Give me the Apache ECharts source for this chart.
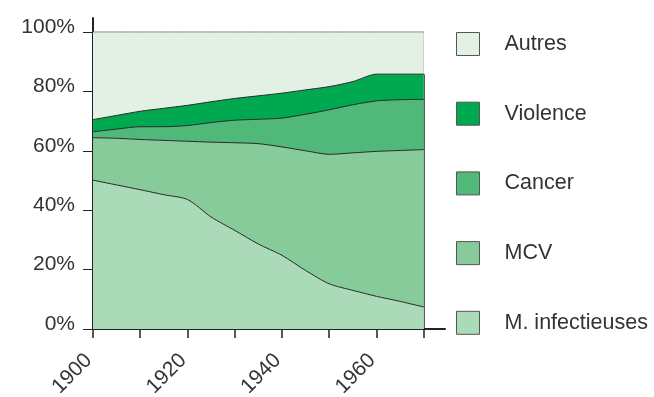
<!DOCTYPE html>
<html>
<head>
<meta charset="utf-8">
<script src="https://cdn.jsdelivr.net/npm/echarts@6/dist/echarts.min.js"></script>
<style>
html,body{margin:0;padding:0;background:#fff;}
#chart{width:654px;height:397px;}
</style>
</head>
<body>
<div id="chart"></div>
<script>
// Data (share of deaths, %)
const years = [1900, 1905, 1910, 1915, 1920, 1925, 1930, 1935, 1940, 1945, 1950, 1955, 1960, 1965, 1970];
const infectieuses = [50.1, 48.5, 46.9, 45.2, 43.6, 37.7, 33.2, 28.6, 24.8, 19.7, 15.2, 13.0, 11.0, 9.3, 7.4];
const mcv = [14.3, 15.7, 16.9, 18.3, 19.6, 25.2, 29.5, 33.8, 36.5, 40.3, 43.6, 46.3, 48.8, 50.8, 53.0];
const cancer = [2.0, 3.1, 4.3, 4.6, 5.3, 6.6, 7.6, 8.2, 9.7, 12.3, 15.0, 16.2, 17.0, 17.1, 16.9];
const violence = [4.1, 4.6, 5.2, 6.2, 6.8, 7.0, 7.3, 7.9, 8.4, 8.2, 7.8, 7.8, 9.0, 8.6, 8.5];
const autres = [29.5, 28.1, 26.7, 25.7, 24.7, 23.5, 22.4, 21.5, 20.6, 19.5, 18.4, 16.7, 14.2, 14.2, 14.2];
const seriesNames = ['M. infectieuses', 'MCV', 'Cancer', 'Violence', 'Autres'];
const xTickValues = [1900, 1910, 1920, 1930, 1940, 1950, 1960, 1970];
const xLabelValues = [1900, 1920, 1940, 1960];
const yTickValues = [0, 20, 40, 60, 80, 100];

const colors = ['#abdab8', '#86cb99', '#50b878', '#00a84f', '#e3f1e5'];
const allData = [infectieuses, mcv, cancer, violence, autres];
// cumulative tops (stacked shares)
const cumulative = [];
allData.forEach((arr, i) => {
  cumulative.push(arr.map((v, k) => (i === 0 ? 0 : cumulative[i - 1][k]) + v));
});
const lastIdx = years.length - 1;
const lastYear = years[lastIdx];
const belowAutres = cumulative[3][lastIdx];
const FONT = '"Liberation Sans", Arial, sans-serif';

const series = seriesNames.map((name, i) => {
  const s = {
    name: name,
    type: 'line',
    data: years.map((y, k) => [y, cumulative[i][k]]),
    showSymbol: false,
    symbol: 'none',
    smooth: 0.25,
    color: colors[i],
    lineStyle: { color: i === 4 ? '#8a8a8a' : '#2b2b2b', width: 1 },
    areaStyle: { color: colors[i], opacity: 1, origin: 'start' },
    emphasis: { disabled: true },
    z: 10 - i
  };
  if (i === 0) {
    s.markLine = {
      silent: true,
      symbol: 'none',
      label: { show: false },
      data: [
        [{ coord: [lastYear, 0], lineStyle: { color: '#222', width: 1.5, type: 'solid' } }, { coord: [lastYear, belowAutres] }],
        [{ coord: [lastYear, belowAutres], lineStyle: { color: '#8a8a8a', width: 1, type: 'solid' } }, { coord: [lastYear, 100] }]
      ]
    };
  }
  return s;
});

const chart = echarts.init(document.getElementById('chart'), null, { renderer: 'canvas' });
chart.setOption({
  animation: false,
  backgroundColor: '#ffffff',
  grid: { left: 93, right: 209, top: 18, bottom: 68, containLabel: false, outerBoundsMode: 'none' },
  legend: {
    orient: 'vertical',
    left: 456,
    top: 32,
    padding: 0,
    itemWidth: 23,
    itemHeight: 23,
    itemGap: 45.7,
    icon: 'rect',
    data: seriesNames.slice().reverse(),
    itemStyle: { borderColor: '#555', borderWidth: 1 },
    textStyle: { fontFamily: FONT, fontSize: 21.5, color: '#333', padding: [9, 0, 0, 20] },
    selectedMode: false
  },
  xAxis: {
    type: 'value',
    min: 1900,
    max: 1974.5,
    axisLine: { show: true, lineStyle: { color: '#222', width: 2 } },
    axisTick: { show: true, length: 9, customValues: xTickValues, lineStyle: { color: '#222', width: 1.5 } },
    axisLabel: { customValues: xLabelValues, formatter: v => String(v), rotate: 45, fontFamily: FONT, fontSize: 21, color: '#333', margin: 24, padding: [0, 6, 0, 0] },
    splitLine: { show: false }
  },
  yAxis: {
    type: 'value',
    min: 0,
    max: 104.7,
    axisLine: { show: true, lineStyle: { color: '#222', width: 2 } },
    axisTick: { show: true, length: 10, customValues: yTickValues, lineStyle: { color: '#222', width: 1 } },
    axisLabel: { customValues: yTickValues, formatter: v => v + '%', fontFamily: FONT, fontSize: 21, color: '#333', margin: 18, verticalAlign: 'bottom', lineHeight: 10 },
    splitLine: { show: false }
  },
  series: series
});
</script>
</body>
</html>
